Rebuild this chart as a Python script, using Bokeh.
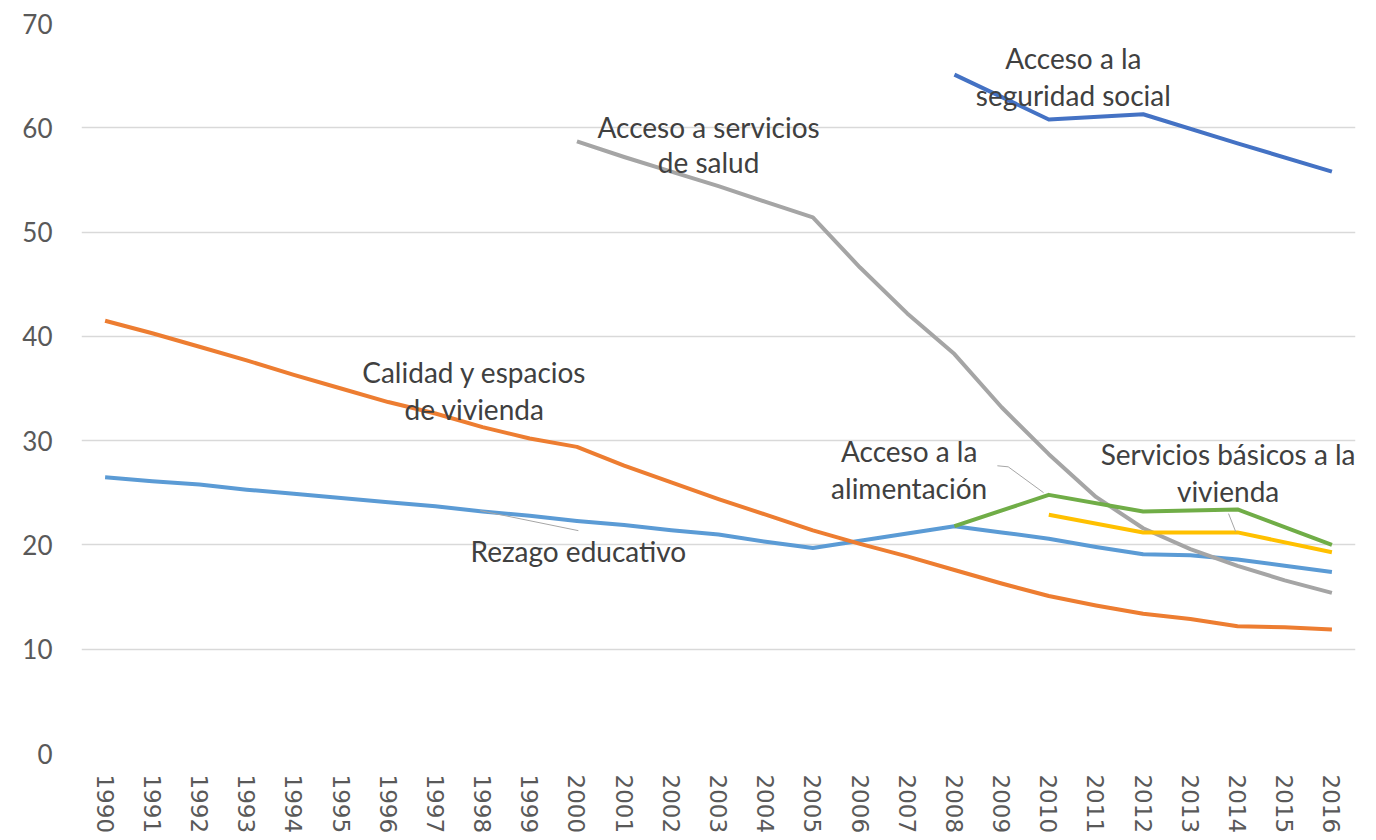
from bokeh.plotting import figure
from bokeh.models import Range1d, FixedTicker, ColumnDataSource
from bokeh.core.properties import value
from bokeh.embed import file_html
from bokeh.resources import INLINE

years = list(range(1990, 2017))

rezago_educativo = [26.5, 26.1, 25.8, 25.3, 24.9, 24.5, 24.1, 23.7, 23.2, 22.8,
                    22.3, 21.9, 21.4, 21.0, 20.3, 19.7, 20.4, 21.1, 21.8, 21.2,
                    20.6, 19.8, 19.1, 19.0, 18.6, 18.0, 17.4]

calidad_vivienda = [41.5, 40.3, 39.0, 37.7, 36.3, 35.0, 33.7, 32.6, 31.3, 30.2,
                    29.4, 27.6, 26.0, 24.4, 22.9, 21.4, 20.1, 18.9, 17.6, 16.3,
                    15.1, 14.2, 13.4, 12.9, 12.2, 12.1, 11.9]

salud_years = list(range(2000, 2017))
servicios_salud = [58.7, 57.2, 55.8, 54.4, 52.9, 51.4, 46.6, 42.2, 38.3, 33.2,
                   28.7, 24.6, 21.6, 19.6, 18.0, 16.6, 15.4]

bienal_years = [2008, 2010, 2012, 2014, 2016]
seguridad_social = [65.1, 60.8, 61.3, 58.5, 55.8]
alimentacion = [21.8, 24.8, 23.2, 23.4, 20.0]

basicos_years = [2010, 2012, 2014, 2016]
servicios_basicos = [22.9, 21.2, 21.2, 19.3]

label_texts = ["Acceso a la", "seguridad social",
               "Acceso a servicios", "de salud",
               "Calidad y espacios", "de vivienda",
               "Acceso a la", "alimentación",
               "Servicios básicos a la", "vivienda",
               "Rezago educativo"]

p = figure(width=1360, height=836, output_backend="svg", toolbar_location=None,
           x_range=Range1d(1989.5, 2016.5), y_range=Range1d(0, 70),
           min_border_left=81, min_border_right=5, min_border_top=23,
           min_border_bottom=80)
p.outline_line_color = None
p.background_fill_color = "white"
p.border_fill_color = "white"

p.xgrid.grid_line_color = None
p.ygrid.grid_line_color = "#D9D9D9"
p.ygrid.grid_line_width = 1.5
p.yaxis.ticker = FixedTicker(ticks=[0, 10, 20, 30, 40, 50, 60, 70])
p.xaxis.ticker = FixedTicker(ticks=years)

for ax in (p.xaxis, p.yaxis):
    ax.axis_line_color = None
    ax.major_tick_line_color = None
    ax.minor_tick_line_color = None
    ax.major_tick_out = 0
    ax.major_tick_in = 0
    ax.minor_tick_out = 0
    ax.major_label_text_color = "#595959"

p.yaxis.major_label_text_font = "Lato"
p.yaxis.major_label_text_font_size = "26px"
p.yaxis.major_label_standoff = 29
p.xaxis.major_label_text_font = "DejaVu Sans"
p.xaxis.major_label_text_font_size = "23px"
p.xaxis.major_label_orientation = "vertical"
p.xaxis.major_label_standoff = 21

lw = 4
p.line(years, rezago_educativo, line_color="#5B9BD5", line_width=lw, line_join="round")
p.line(years, calidad_vivienda, line_color="#ED7D31", line_width=lw, line_join="round")
p.line(salud_years, servicios_salud, line_color="#A5A5A5", line_width=lw, line_join="round")
p.line(bienal_years, seguridad_social, line_color="#4472C4", line_width=lw, line_join="round")
p.line(bienal_years, alimentacion, line_color="#70AD47", line_width=lw, line_join="round")
p.line(basicos_years, servicios_basicos, line_color="#FFC000", line_width=lw, line_join="round")

# leader lines
p.line([1997.95, 2000.03], [23.29, 21.37], line_color="#A6A6A6", line_width=1)
p.line([2008.91, 2009.14, 2009.89], [27.59, 27.49, 25.01], line_color="#A6A6A6", line_width=1)
p.line([2013.81, 2013.96], [23.0, 21.28], line_color="#A6A6A6", line_width=1)

lx = [2010.52, 2010.52, 2002.79, 2002.79, 1997.83, 1997.83,
      2007.04, 2007.04, 2013.80, 2013.80, 2000.03]
ly = [66.70, 63.16, 60.10, 56.75, 36.58, 33.04,
      29.02, 25.49, 28.74, 25.20, 19.37]
src = ColumnDataSource(dict(x=lx, y=ly, t=label_texts))
p.text(x="x", y="y", text="t", source=src, text_font=value("Lato"),
       text_font_size="28px", text_color="#404040", text_align="center",
       text_baseline="middle")

open("out.html", "w").write(file_html(p, INLINE))
